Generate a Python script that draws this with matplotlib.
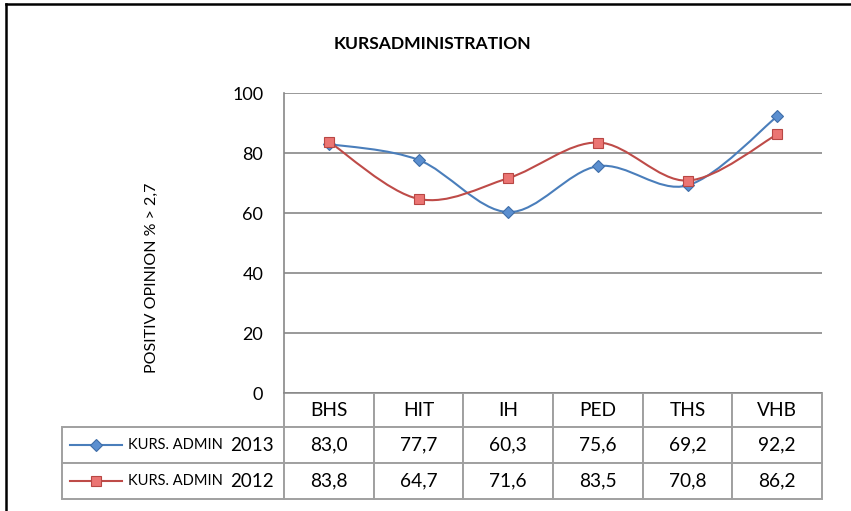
import numpy as np
import matplotlib
matplotlib.use("Agg")
import matplotlib.pyplot as plt
from matplotlib.path import Path
from matplotlib.patches import PathPatch
from matplotlib.table import Table
from matplotlib.lines import Line2D

plt.rcParams['font.family'] = ['Lato', 'DejaVu Sans']

categories = ['BHS', 'HIT', 'IH', 'PED', 'THS', 'VHB']
admin_2013 = [83.0, 77.7, 60.3, 75.6, 69.2, 92.2]
admin_2012 = [83.8, 64.7, 71.6, 83.5, 70.8, 86.2]
series_names = ['KURS. ADMIN', 'KURS. ADMIN']
series_years = ['2013', '2012']
yticks = [0, 20, 40, 60, 80, 100]

W, H = 851, 511
fig = plt.figure(figsize=(W / 100, H / 100), dpi=100)

# plot area in pixels: x 284..822, y 93..393
ax = fig.add_axes([284 / W, (H - 393) / H, 538 / W, 300 / H])


def smooth_path(xs, ys):
    # excel-like smoothed line (bezier segments through the points)
    pts = np.column_stack([xs, ys]).astype(float)
    ext = np.vstack([pts[0], pts, pts[-1]])
    verts = [pts[0]]
    codes = [Path.MOVETO]
    for i in range(len(pts) - 1):
        p0, p1, p2, p3 = ext[i], ext[i + 1], ext[i + 2], ext[i + 3]
        verts += [p1 + (p2 - p0) / 6, p2 - (p3 - p1) / 6, p2]
        codes += [Path.CURVE4] * 3
    return Path(verts, codes)


x = np.arange(len(categories))
styles = [
    dict(line='#4A7EBB', face='#5B8FD0', edge='#3E6DA8', marker='D', ms=6.5),
    dict(line='#BE4B48', face='#EB7573', edge='#B84744', marker='s', ms=7.5),
]
for vals, st in zip([admin_2013, admin_2012], styles):
    ax.add_patch(PathPatch(smooth_path(x, vals), fill=False,
                           edgecolor=st['line'], lw=1.5, zorder=3))
    ax.plot(x, vals, ls='none', marker=st['marker'], ms=st['ms'],
            mfc=st['face'], mec=st['edge'], mew=0.8, zorder=4)

ax.set_xlim(-0.5, len(categories) - 0.5)
ax.set_ylim(0, 100)
ax.set_yticks(yticks)
ax.set_xticks([])
ax.yaxis.grid(True, color='#878787', lw=1.2)
ax.set_axisbelow(True)
for s in ['top', 'right', 'bottom']:
    ax.spines[s].set_visible(False)
ax.spines['left'].set_color('#878787')
ax.spines['left'].set_linewidth(1.2)
ax.tick_params(axis='y', length=0, pad=15, labelsize=13)


# data table below the plot
def ax_x(px):
    return (px - 284) / 538


def ax_y(py):
    return (393 - py) / 300


label_w = 222 / 538
col_w = 1 / len(categories)
row_h = [34 / 300, 36 / 300, 36 / 300]
tab = Table(ax, bbox=[0, ax_y(499), 1, sum(row_h)])
for j, cat in enumerate(categories):
    tab.add_cell(0, j, width=col_w, height=row_h[0], text=cat, loc='center')
for i, vals in enumerate([admin_2013, admin_2012]):
    tab.add_cell(i + 1, -1, width=label_w, height=row_h[i + 1], text='')
    for j, v in enumerate(vals):
        tab.add_cell(i + 1, j, width=col_w, height=row_h[i + 1],
                     text=f'{v:.1f}'.replace('.', ','), loc='center')
tab.auto_set_font_size(False)
tab.set_fontsize(13.8)
for cell in tab.get_celld().values():
    cell.set_edgecolor('#a0a0a0')
    cell.set_linewidth(1.4)
ax.add_table(tab)
tab.set_clip_on(False)

# legend keys inside the row-label cells
for i, (st, name, year) in enumerate(zip(styles, series_names, series_years)):
    yc = ax_y(445 + 36 * i)
    ax.plot([ax_x(70), ax_x(122)], [yc, yc], color=st['line'], lw=1.5,
            transform=ax.transAxes, clip_on=False)
    ax.plot([ax_x(96)], [yc], marker=st['marker'], ms=st['ms'],
            mfc=st['face'], mec=st['edge'], mew=0.8,
            transform=ax.transAxes, clip_on=False)
    ax.text(ax_x(128), yc, name, fontsize=10.5, va='center', ha='left',
            transform=ax.transAxes)
    ax.text(ax_x(274), yc, year, fontsize=13.5, va='center', ha='right',
            transform=ax.transAxes)

fig.text(432 / W, (H - 44) / H, 'KURSADMINISTRATION', fontsize=12.6,
         fontweight='bold', ha='center', va='center')
fig.text(152 / W, (H - 278) / H, 'POSITIV OPINION % > 2,7', fontsize=11.5,
         rotation=90, ha='center', va='center')

# frame edge of the chart object
fig.add_artist(Line2D([6 / W, 6 / W], [0, (H - 4) / H], color='black', lw=1.8))
fig.add_artist(Line2D([6 / W, 1], [(H - 4) / H, (H - 4) / H], color='black', lw=1.8))

fig.savefig('out.png', dpi=100)
